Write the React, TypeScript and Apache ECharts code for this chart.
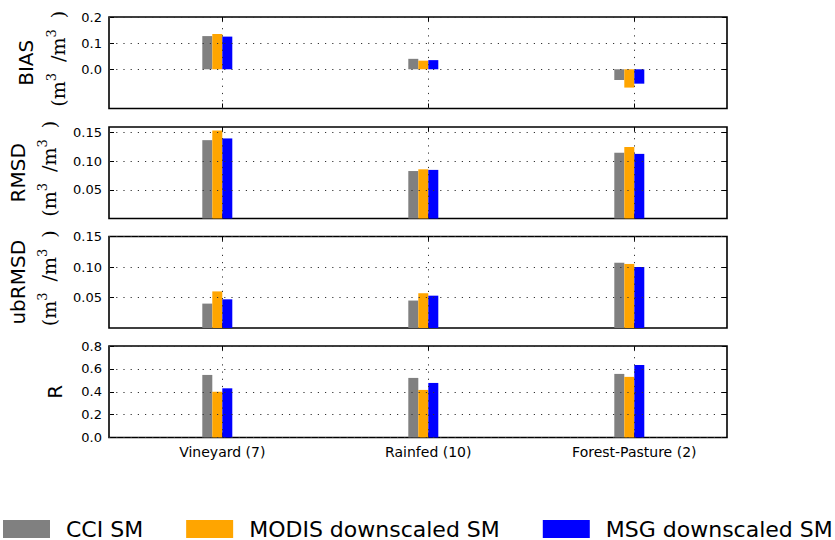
import React, { useEffect, useRef } from 'react';
import * as echarts from 'echarts';

const categories = ['Vineyard (7)', 'Rainfed (10)', 'Forest-Pasture (2)'];
const seriesNames = ['CCI SM', 'MODIS downscaled SM', 'MSG downscaled SM'];
const seriesColors = ['#808080', '#ffa500', '#0000ff'];

const biasCCI = [0.127, 0.040, -0.041];
const biasMODIS = [0.135, 0.033, -0.070];
const biasMSG = [0.125, 0.035, -0.055];

const rmsdCCI = [0.137, 0.083, 0.115];
const rmsdMODIS = [0.154, 0.086, 0.125];
const rmsdMSG = [0.140, 0.085, 0.113];

const ubrmsdCCI = [0.040, 0.045, 0.107];
const ubrmsdMODIS = [0.060, 0.057, 0.105];
const ubrmsdMSG = [0.047, 0.053, 0.100];

const rCCI = [0.547, 0.521, 0.556];
const rMODIS = [0.400, 0.416, 0.530];
const rMSG = [0.430, 0.477, 0.634];

const metricNames = ['BIAS', 'RMSD', 'ubRMSD', 'R'];
const metricUnits = [true, true, true, false];
const metricData = [
  [biasCCI, biasMODIS, biasMSG],
  [rmsdCCI, rmsdMODIS, rmsdMSG],
  [ubrmsdCCI, ubrmsdMODIS, ubrmsdMSG],
  [rCCI, rMODIS, rMSG],
];
const yTicks = [
  [0, 0.1, 0.2],
  [0.05, 0.1, 0.15],
  [0.05, 0.1, 0.15],
  [0, 0.2, 0.4, 0.6, 0.8],
];
const yTickDecimals = [1, 2, 2, 1];
const yMins = [-0.15, 0, 0, 0];
const yMaxs = [0.2, 0.16, 0.15, 0.8];
const xPositions = [0, 1, 2];

// layout
const GRID_LEFT = 109;
const GRID_RIGHT = 108;
const GRID_TOPS = [17, 127, 236.5, 346];
const GRID_H = 91.5;
const NAME_X = [26, 17.5, 17.5, 55];
const UNIT_X = [58, 49, 49, 0];

const dotted = { color: '#333', width: 1, type: [1.2, 6] as number[] };

export default function App() {
  const ref = useRef<HTMLDivElement>(null);
  useEffect(() => {
    if (!ref.current) return;
    const chart = echarts.init(ref.current, null, { renderer: 'svg' });

    const grid: any[] = [];
    const xAxis: any[] = [];
    const yAxis: any[] = [];
    const series: any[] = [];
    const graphic: any[] = [];
    const noLine = { show: false, onZero: false };

    metricNames.forEach((name, i) => {
      grid.push({
        left: GRID_LEFT,
        right: GRID_RIGHT,
        top: GRID_TOPS[i],
        height: GRID_H,
        show: true,
        borderColor: '#000',
        borderWidth: 1.6,
        backgroundColor: 'transparent',
        containLabel: false,
        outerBoundsMode: 'none',
      });
      const tickStyle = { show: true, inside: true, length: 5, lineStyle: { color: '#000', width: 1 } };
      xAxis.push({
        type: 'value',
        gridIndex: i,
        position: 'bottom',
        min: -0.55,
        max: 2.45,
        axisLine: noLine,
        splitLine: { show: false },
        axisTick: { ...tickStyle, customValues: xPositions },
        axisLabel: {
          show: i === 3,
          customValues: xPositions,
          formatter: (v: number) => categories[Math.round(v)],
          fontSize: 14,
          fontFamily: 'DejaVu Sans',
          color: '#000',
          margin: 7,
        },
      });
      xAxis.push({
        type: 'value',
        gridIndex: i,
        position: 'top',
        min: -0.55,
        max: 2.45,
        axisLine: noLine,
        splitLine: { show: false },
        axisTick: { ...tickStyle, customValues: xPositions },
        axisLabel: { show: false },
      });
      yAxis.push({
        type: 'value',
        gridIndex: i,
        position: 'left',
        min: yMins[i],
        max: yMaxs[i],
        axisLine: noLine,
        splitLine: { show: false },
        axisTick: { ...tickStyle, customValues: yTicks[i] },
        axisLabel: {
          customValues: yTicks[i],
          formatter: (v: number) => v.toFixed(yTickDecimals[i]),
          fontSize: 13,
          fontFamily: 'DejaVu Sans',
          color: '#000',
          margin: 7,
        },
      });
      yAxis.push({
        type: 'value',
        gridIndex: i,
        position: 'right',
        min: yMins[i],
        max: yMaxs[i],
        axisLine: noLine,
        splitLine: { show: false },
        axisTick: { ...tickStyle, customValues: yTicks[i] },
        axisLabel: { show: false },
      });

      metricData[i].forEach((vals, s) => {
        series.push({
          type: 'bar',
          name: seriesNames[s],
          xAxisIndex: 2 * i,
          yAxisIndex: 2 * i,
          data: vals.map((v, c) => [xPositions[c], v]),
          barWidth: 10,
          barGap: '0%',
          itemStyle: { color: seriesColors[s] },
          silent: true,
        });
      });
      // invisible padding series so the three bars sit left of the tick
      series.push({
        type: 'bar',
        name: '_pad' + i,
        xAxisIndex: 2 * i,
        yAxisIndex: 2 * i,
        data: xPositions.map((x) => [x, 0]),
        barWidth: 10,
        barGap: '0%',
        itemStyle: { color: 'rgba(0,0,0,0)' },
        silent: true,
      });
      // dotted grid lines
      series.push({
        type: 'line',
        name: '_grid' + i,
        xAxisIndex: 2 * i,
        yAxisIndex: 2 * i,
        data: [],
        silent: true,
        z: 5,
        markLine: {
          silent: true,
          symbol: ['none', 'none'],
          label: { show: false },
          lineStyle: dotted,
          emphasis: { disabled: true },
          data: [
            ...yTicks[i].map((t) => ({ yAxis: t })),
            ...xPositions.map((x) => ({ xAxis: x })),
          ],
        },
      });

      const cy = GRID_TOPS[i] + GRID_H / 2;
      graphic.push({
        type: 'text',
        x: NAME_X[i],
        y: cy,
        rotation: Math.PI / 2,
        style: {
          text: name,
          fontSize: 20,
          fontFamily: 'DejaVu Sans',
          fill: '#000',
          align: 'center',
          verticalAlign: 'middle',
        },
      });
      if (metricUnits[i]) {
        graphic.push({
          type: 'text',
          x: UNIT_X[i],
          y: cy - 4,
          rotation: Math.PI / 2,
          style: {
            text: '{p|(m}{s|3}{q| /m}{s|3}{q| )}',
            fill: '#000',
            align: 'center',
            verticalAlign: 'middle',
            rich: {
              p: { fontFamily: 'DejaVu Serif', fontSize: 19, lineHeight: 26, fill: '#000' },
              q: { fontFamily: 'DejaVu Serif', fontSize: 19, lineHeight: 26, fill: '#000', padding: [0, 0, 0, 5] },
              s: { fontFamily: 'DejaVu Serif', fontSize: 13, lineHeight: 14, verticalAlign: 'top', fill: '#000' },
            },
          },
        });
      }
    });

    chart.setOption({
      animation: false,
      backgroundColor: '#fff',
      grid,
      xAxis,
      yAxis,
      series,
      graphic,
      legend: {
        data: seriesNames,
        left: 3,
        top: 518,
        padding: 0,
        itemWidth: 47,
        itemHeight: 18,
        itemGap: 43,
        icon: 'rect',
        selectedMode: false,
        textStyle: {
          fontSize: 22,
          fontFamily: 'DejaVu Sans',
          color: '#000',
          padding: [0, 0, 0, 11],
        },
      },
    });
    return () => chart.dispose();
  }, []);
  return (
    <div
      ref={ref}
      style={{ position: 'fixed', left: 0, top: 0, width: 835, height: 540, background: '#fff' }}
    />
  );
}
